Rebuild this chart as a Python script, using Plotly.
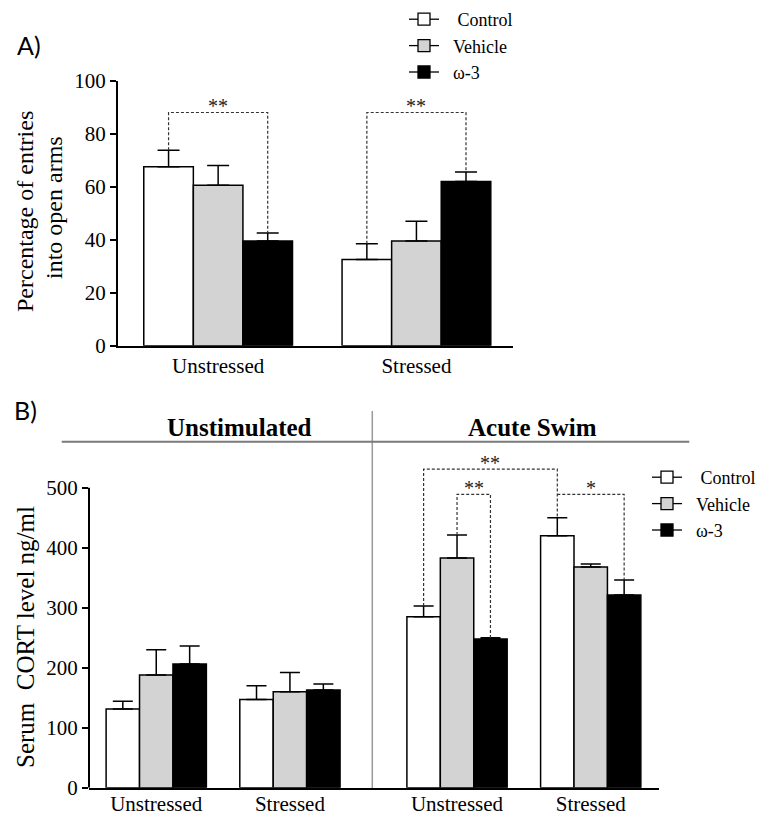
import plotly.graph_objects as go

# ---------------- data ----------------
series = ["Control", "Vehicle", "ω-3"]
legend_pad = [3, 2, 2]  # leading spaces before each legend label, as in the original legend
colors = ["#ffffff", "#d3d3d3", "#000000"]

a_groups = ["Unstressed", "Stressed"]
a_pos = [0, 1]
a_mean = {"Control": [67.5, 32.5], "Vehicle": [60.5, 39.5], "ω-3": [39.5, 62.0]}
a_sem = {"Control": [6.3, 6.0], "Vehicle": [7.5, 7.5], "ω-3": [3.0, 3.5]}

b_groups = ["Unstressed", "Stressed", "Unstressed", "Stressed"]
b_pos = [0, 1, 2.25, 3.25]
b_mean = {"Control": [131, 147, 285, 420], "Vehicle": [188, 160, 383, 368], "ω-3": [206, 163, 248, 321]}
b_sem = {"Control": [13, 23, 18, 30], "Vehicle": [42, 32, 38, 5], "ω-3": [30, 10, 2, 25]}

# significance brackets: (left group, left series, right group, right series, level, label, draw left leg)
a_sig = [(0, 0, 0, 2, 88, "**", True), (1, 0, 1, 2, 88, "**", True)]
b_sig = [(2, 0, 3, 0, 531, "**", True), (2, 1, 2, 2, 489, "**", True), (3, 0, 3, 2, 489, "*", False)]

a_yticks = [0, 20, 40, 60, 80, 100]
b_yticks = [0, 100, 200, 300, 400, 500]

# ---------------- figure ----------------
SERIF = "Times New Roman, Liberation Serif, serif"
SANS = "Lato, Open Sans, sans-serif"
BARGAP = 0.25
bar_w = (1 - BARGAP) / len(series)

fig = go.Figure()


def add_panel(pos, mean, sem, xa, ya, cap, legend):
    for i, s in enumerate(series):
        fig.add_trace(go.Bar(
            x=pos, y=mean[s], name=s, xaxis=xa, yaxis=ya,
            marker=dict(color=colors[i], line=dict(color="black", width=1.5)),
            error_y=dict(type="data", array=sem[s], arrayminus=[0] * len(pos), symmetric=False,
                         color="black", thickness=1.5, width=cap),
            showlegend=False,
        ))
    for i, s in enumerate(series):
        fig.add_trace(go.Scatter(
            x=[None], y=[None], name="\u00a0" * legend_pad[i] + s, xaxis=xa, yaxis=ya,
            mode="lines+markers",
            line=dict(color="black", width=1.3),
            marker=dict(symbol="square", size=12, color=colors[i], line=dict(color="black", width=1.3)),
            legend=legend, showlegend=True,
        ))


def add_sig(pos, mean, sem, sigs, xa, ya):
    for (g0, s0, g1, s1, lvl, lab, leftleg) in sigs:
        x0 = pos[g0] + (s0 - 1) * bar_w
        x1 = pos[g1] + (s1 - 1) * bar_w
        y0 = mean[series[s0]][g0] + sem[series[s0]][g0]
        y1 = mean[series[s1]][g1] + sem[series[s1]][g1]
        xs = ([x0] if leftleg else []) + [x0, x1, x1]
        ys = ([y0] if leftleg else []) + [lvl, lvl, y1]
        fig.add_trace(go.Scatter(x=xs, y=ys, mode="lines", xaxis=xa, yaxis=ya,
                                 line=dict(color="#333333", width=1.2, dash="3px,2px"),
                                 showlegend=False, hoverinfo="skip"))
        fig.add_annotation(x=(x0 + x1) / 2, y=lvl, xref=xa, yref=ya, text=lab, showarrow=False,
                           xanchor="center", yanchor="bottom", yshift=-7,
                           font=dict(family=SERIF, size=20, color="#222"))


add_panel(a_pos, a_mean, a_sem, "x", "y", 11, "legend")
add_panel(b_pos, b_mean, b_sem, "x2", "y2", 10, "legend2")
add_sig(a_pos, a_mean, a_sem, a_sig, "x", "y")
add_sig(b_pos, b_mean, b_sem, b_sig, "x2", "y2")

# the page body has an 8 px margin; the figure is sized to fill the rest of the window
OFF = 8
W, H = 765 - OFF, 817 - OFF


def px(x):
    return (x - OFF) / W


def py(y):
    return 1 - (y - OFF) / H


tickfont = dict(family=SERIF, size=21, color="black")
common = dict(showgrid=False, zeroline=False, automargin=False, color="black")

fig.update_layout(
    template="none",
    width=W, height=H, margin=dict(l=0, r=0, t=0, b=0, pad=0, autoexpand=False),
    paper_bgcolor="white", plot_bgcolor="rgba(0,0,0,0)",
    font=dict(family=SERIF, color="black"),
    barmode="group", bargap=BARGAP, bargroupgap=0,
    xaxis=dict(domain=[px(118), px(513)], range=[-0.505, 1.487], tickvals=a_pos, ticktext=a_groups,
               showline=True, linecolor="black", linewidth=2, ticks="",
               tickfont=dict(family=SERIF, size=21, color="black"), anchor="y", **common),
    yaxis=dict(domain=[py(345.7), py(80.7)], range=[0, 100], tickvals=a_yticks,
               showline=True, linecolor="black", linewidth=2, ticks="outside", ticklen=6, tickwidth=2,
               tickcolor="black", tickfont=tickfont, anchor="x", **common),
    xaxis2=dict(domain=[px(89), px(659.3)], range=[-0.503, 3.763], tickvals=b_pos, ticktext=b_groups,
                showline=True, linecolor="black", linewidth=2, ticks="", ticklabelstandoff=-4,
                tickfont=dict(family=SERIF, size=21, color="black"), anchor="y2", **common),
    yaxis2=dict(domain=[py(787.7), py(787.7 - 545 * 0.6)], range=[0, 545], tickvals=b_yticks,
                showline=False, ticks="outside", ticklen=6, tickwidth=2,
                tickcolor="black", tickfont=tickfont, anchor="x2", **common),
    legend=dict(x=px(404), y=py(1), xanchor="left", yanchor="top", bgcolor="rgba(0,0,0,0)",
                font=dict(family=SERIF, size=18, color="black"), tracegroupgap=0),
    legend2=dict(x=px(647), y=py(459), xanchor="left", yanchor="top", bgcolor="rgba(0,0,0,0)",
                 font=dict(family=SERIF, size=18, color="black"), tracegroupgap=0),
)

# panel B y axis line (only up to 500)
fig.add_shape(type="line", xref="paper", yref="y2", x0=px(89), x1=px(89), y0=0, y1=b_yticks[-1],
              line=dict(color="black", width=2))
# divider and header line
fig.add_shape(type="line", xref="x2", yref="paper", x0=1.616, x1=1.616, y0=py(788), y1=py(411),
              line=dict(color="#9a9a9a", width=1.5))
fig.add_shape(type="line", xref="paper", yref="paper", x0=px(61.7), x1=px(689.3), y0=py(441.7), y1=py(441.7),
              line=dict(color="#7a7a7a", width=2))


def label(x, y, text, size, family=SERIF, angle=0):
    fig.add_annotation(x=px(x), y=py(y), xref="paper", yref="paper", text=text, showarrow=False,
                       xanchor="center", yanchor="middle", textangle=angle,
                       font=dict(family=family, size=size, color="black"))


# panel labels and headers
label(29, 45, "A)", 25, SANS)
label(25, 410, "B)", 25, SANS)
label(239.5, 427, "<b>Unstimulated</b>", 25)
label(532, 427, "<b>Acute Swim</b>", 25)

# axis titles
label(25, 212, "Percentage of entries", 24, angle=-90)
label(54, 208, "into open arms", 24, angle=-90)
label(25, 637, "Serum  CORT level ng/ml", 25, angle=-90)

fig.write_html("out.html")
